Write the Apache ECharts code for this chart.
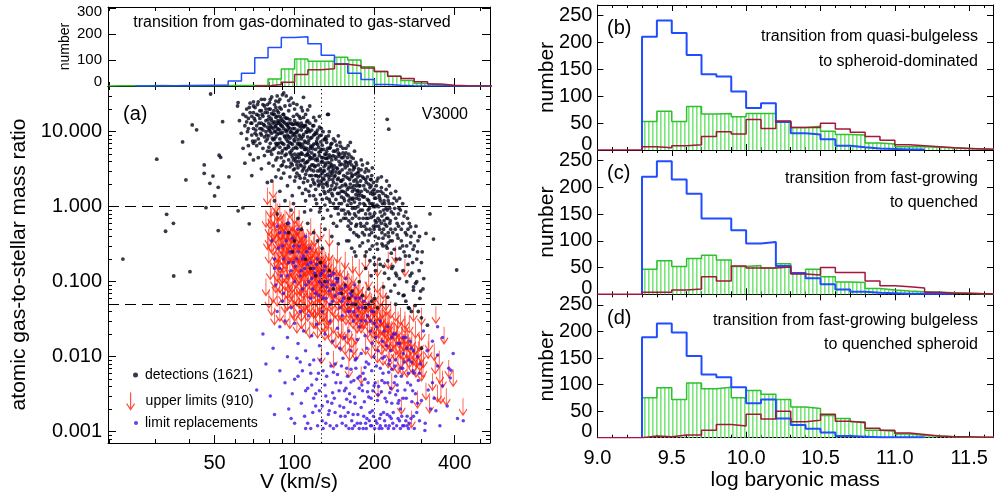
<!DOCTYPE html>
<html><head><meta charset="utf-8">
<script src="https://cdn.jsdelivr.net/npm/echarts@6/dist/echarts.min.js"></script>
<style>html,body{margin:0;padding:0;background:#fff}#c{width:994px;height:495px}</style>
</head><body><div id="c"></div>
<script>
// ================= DATA =================
// Top-left histogram: bins in log V (lower edges + last upper edge)
const vHistEdgesLog = [1.30,1.35,1.40,1.45,1.50,1.55,1.60,1.65,1.70,1.75,1.80,1.85,1.90,1.95,2.00,2.05,2.10,2.15,2.20,2.25,2.30,2.35,2.40,2.45,2.50,2.55,2.60,2.65,2.70,2.75];
const vHistBlue  = [null,null,0,1,1,2,2,3,4,19,49,108,148,186,189,162,118,85,49,25,6,3,1,0,0,0,0,0,0];
const vHistGreen = [1,1,1,2,1,1,2,1,2,2,2,3,27,65,104,95,95,110,100,74,56,37,21,10,4,1,0,0,0];
const vHistRed   = [null,null,null,null,null,null,null,null,null,null,null,0,6,14,44,62,66,83,78,69,56,37,29,16,8,3,1,0,0];

// Right histograms: bins in log baryonic mass
const massEdges = [9.0,9.1,9.2,9.3,9.4,9.5,9.6,9.7,9.8,9.9,10.0,10.1,10.2,10.3,10.4,10.5,10.6,10.7,10.8,10.9,11.0,11.1,11.2,11.3,11.4,11.5,11.6,11.7];
const massBlueB  = [null,null,null,211,241,218,177,141,137,109,78,87,52,31,29,20,8,5,3,2,1,1,null,null,null,null,null];
const massGreenB = [null,null,null,53,72,53,81,67,68,62,68,68,53,42,44,35,29,28,13,11,6,6,5,4,3,2,1];
const massRedB   = [0,0,0,6,4,8,10,25,34,30,57,40,54,42,42,50,39,33,25,18,10,8,6,4,3,2,1];
const massBlueC  = [null,null,null,220,249,215,188,142,142,120,95,98,53,40,30,19,9,5,3,2,1,1,1,1,null,null,null];
const massGreenC = [null,null,null,47,63,52,67,73,64,52,54,49,57,39,47,33,23,22,11,8,6,5,4,3,2,1,1];
const massRedC   = [0,0,0,4,4,8,10,33,25,53,49,49,51,38,36,50,41,41,25,16,14,12,4,2,2,1,1];
const massBlueD  = [null,null,null,189,215,198,154,119,114,95,65,72,36,24,17,10,3,2,1,1,1,1,null,null,null,null,null];
const massGreenD = [null,null,null,75,94,72,103,92,95,75,89,82,72,58,55,42,36,30,14,12,7,4,3,2,1,1,1];
const massRedD   = [0,0,0,3,2,5,5,14,25,22,44,35,50,30,33,44,31,28,18,14,9,6,3,2,2,1,1];

// Scatter panel (a): [V km/s, gas-to-stellar ratio]
const detections = [
[48.3,31.8],[61.3,24.4],[91,33],[108,28.7],[134,17],[223,14.6],[226,10.8],[41.2,12.3],[42.8,10.6],[37.9,7.3],[30.3,4.3],[45.7,3.6],[39,2.27],[45.7,2.78],[48,2.05],[51.6,1.81],[50,1.39],[46.4,0.97],[33,0.79],[35,0.6],[32.7,0.47],[51.6,0.48],[67.5,0.59],[61.3,0.88],[56.6,2.5],[52.7,4.55],[53.6,13.6],[22.6,0.2],[323,0.8],[333,0.37],[312,0.44],[273,0.54],[407,0.143],[35.1,0.119],[40.4,0.136],[316,0.0263],[300,0.013],[280,0.077],[258,0.066],[270,0.044],[63.9,0.97],[49.3,2.56],[52,4.85],[80.5,24.4],[85,25.6],[96,22.5],[112,19.5],[133,17],[146,8.8],[131.5,7.9],
[61,22],[62,14],[63,9.5],[64,17],[64,6],[65,12],[65,3.8],[66,20],[66,8],[67,11],[67,15],[68,5],[68,24],[69,9],[69,13],[69,2.6],[70,18],[70,7],[70,11],[70,4.2],
[71,14],[71,9.5],[71,21],[72,6.5],[72,12],[72,17],[73,8],[73,25],[73,4.5],[74,11],[74,15],[74,7],[75,19],[75,9],[75,13],[75,3.2],[76,6],[76,10.5],[76,16],[77,8.5],[77,22],[77,12],[77,4.8],[78,14],[78,7.5],[78,10],[79,18],[79,5.5],[79,11.5],[79,2.1],[80,8.8],[80,13],[80,16],[80,6.2],[80,3.8],
[81,12],[81,20],[81,7],[81,27],[82,9.5],[82,5],[82,14],[83,11],[83,17],[83,3.5],[83,7.8],[84,23],[84,10],[84,6],[84,13.5],[85,8.5],[85,4.2],[85,15.5],[85,2.5],[86,11],[86,19],[86,6.8],[86,9.2],[87,13],[87,5.2],[87,3.1],[87,25],[88,8],[88,16],[88,10.5],[88,1.6],[88,6.2],[89,12],[89,4.5],[89,20],[89,7.2],[90,9.8],[90,14],[90,5.6],[90,3.6],[90,31],[84,1.2],[86,0.8],[82,2.2],[89,2.4],
[91,11],[91,6.8],[91,17],[91,2.8],[92,8.5],[92,13],[92,4.8],[92,22],[93,10],[93,5.9],[93,15],[93,3.4],[94,7.5],[94,12],[94,1.9],[94,9],[95,19],[95,4.2],[95,6.2],[95,11.5],[96,8.2],[96,14.5],[96,2.5],[96,5.3],[97,10],[97,3.8],[97,7],[97,28],[98,12.5],[98,4.6],[98,1.4],[98,8.8],[99,6],[99,16],[99,3.1],[99,9.5],[100,5],[100,11],[100,7.5],[100,2.2],[100,20],[94,0.6],[97,0.9],[99,1.1],[92,1.2],[95,0.45],[100,0.35],[98,0.25],[93,30],[99,24],
[101,8.5],[101,4],[101,13],[102,6],[102,2.8],[102,10],[102,17],[103,5],[103,7.8],[103,3.3],[104,12],[104,4.5],[104,1.8],[104,9],[105,6.5],[105,15],[105,2.4],[105,3.6],[106,8],[106,5.2],[106,10.5],[107,3],[107,6.8],[107,1.5],[107,19],[108,4.2],[108,9.2],[108,2.1],[109,5.8],[109,12],[109,3.4],[110,7.2],[110,1.2],[110,4.8],[110,2.7],[111,9.8],[111,6],[111,3.9],[112,2.2],[112,14],[112,5],[113,7.6],[113,1.6],[113,3.2],[114,4.3],[114,10],[114,2.6],[115,6.4],[115,0.9],[115,1.9],[103,0.7],[106,0.5],[109,0.85],[112,0.6],[114,22],
[116,3.6],[116,8.4],[116,5.2],[117,2.3],[117,12],[117,4.4],[118,1.4],[118,6.8],[118,3],[119,9.2],[119,2],[119,4.9],[120,5.8],[120,1.7],[120,3.5],[120,14],[121,2.6],[121,7.5],[121,1.1],[122,4.1],[122,10.5],[122,3],[123,6.2],[123,1.9],[123,2.5],[124,4.8],[124,8.8],[124,0.85],[125,3.2],[125,1.45],[125,5.5],[126,2.2],[126,11],[126,3.9],[127,6.6],[127,1.25],[127,2.8],[128,4.5],[128,0.7],[128,1.8],[129,3.4],[129,7.8],[129,2.3],[130,5],[130,1.05],[130,0.5],[118,0.45],[122,0.35],[127,0.28],[124,16],
[131,3.6],[131,2],[131,8.5],[132,1.3],[132,4.4],[133,2.7],[133,6],[133,0.9],[134,3.2],[134,1.6],[135,4.9],[135,2.3],[135,10],[136,1.15],[136,3.8],[137,2.6],[137,0.75],[137,6.8],[138,1.9],[138,4.2],[139,3],[139,1.4],[140,5.5],[140,0.6],[140,2.1],[141,3.5],[141,1.7],[142,7.5],[142,0.95],[142,2.6],[143,4.3],[143,1.25],[144,2],[144,0.55],[145,3.2],[145,5.8],[145,1.5],[146,2.4],[146,0.8],[147,4],[147,1.1],[148,2.9],[148,1.8],[149,6.4],[149,0.65],[150,2.2],[150,3.7],[150,1.35],[138,0.4],[146,0.32],
[152,1.6],[152,4.5],[153,2.6],[153,0.9],[154,1.2],[155,3.3],[155,2],[156,0.7],[156,5.2],[157,1.45],[158,2.8],[158,1.05],[159,0.55],[160,3.8],[160,1.8],[161,2.3],[161,0.8],[162,1.3],[163,4.6],[163,0.6],[164,2.5],[165,1.6],[165,0.95],[166,3.1],[167,0.45],[167,1.9],[168,1.15],[169,2.7],[170,0.75],[170,1.45],[171,3.6],[171,0.58],[172,2.1],[173,1],[173,1.65],[174,0.4],[174,2.9],[175,1.25],[175,0.7],[157,0.35],[164,0.28],[170,0.22],[159,6.5],[168,5.5],[162,7.2],
[176,1.9],[177,0.9],[178,0.55],[179,1.4],[180,2.5],[181,0.7],[182,1.1],[183,0.42],[184,1.7],[185,0.8],[186,3.2],[187,0.6],[188,1.25],[189,0.35],[190,2],[191,0.95],[192,0.5],[193,1.5],[194,0.72],[195,2.6],[196,0.3],[197,1.05],[198,0.55],[199,1.7],[200,0.82],[201,0.4],[202,1.3],[203,0.62],[204,2.2],[205,0.27],[180,0.33],[186,0.25],[192,0.19],[199,0.21],[178,4.2],[188,3.8],[196,3.3],[185,0.15],[202,0.14],[194,0.12],
[207,1.0],[209,0.5],[211,1.6],[213,0.75],[215,0.38],[217,1.2],[219,0.58],[221,0.3],[223,0.9],[225,0.45],[227,1.9],[229,0.65],[231,0.24],[233,0.35],[235,0.8],[237,1.3],[239,0.5],[241,0.2],[243,0.6],[245,0.38],[247,0.95],[249,0.28],[210,0.17],[218,0.13],[226,0.11],[234,0.16],[242,0.12],[212,2.5],[222,2.2],[238,0.09],[246,0.07],[230,0.075],[216,0.085],[224,0.062],[240,0.05],
[252,0.5],[255,0.3],[258,0.75],[261,0.22],[264,0.42],[267,0.17],[270,0.6],[273,0.33],[276,0.13],[279,0.27],[282,0.45],[285,0.095],[288,0.2],[291,0.35],[294,0.14],[298,0.075],[302,0.25],[306,0.11],[256,0.065],[262,0.055],[268,0.045],[275,0.04],[284,0.048],[292,0.04],[300,0.033],[255,1.1],[262,0.85],[248,1.3],[266,0.7],[240,1.6],
[110,0.2],[115,0.15],[120,0.12],[125,0.18],[130,0.1],[135,0.14],[140,0.08],[145,0.11],[150,0.07],[155,0.09],[160,0.06],[165,0.075],[170,0.05],[175,0.1],[180,0.065],[185,0.045],[190,0.08],[195,0.055],[200,0.06],[205,0.045],
[65.5,16],[66.5,10],[67.5,21],[68.5,13],[69.5,7.5],[70.5,15],[71.5,10.5],[72.5,23],[73.5,13],[74.5,9.5],[75.5,17],[76.5,12.5],[77.5,18],[78.5,9],[79.5,14.5],[66,13.5],[68,18],[70,22],[72,9],[74,19],[76,23],[78,20],[80,20],[77,27],[73,16.5],[75,11],[79,8],[71,7.5],[67,6.5],[69,16],
[80.5,11],[81.5,15],[82.5,8.2],[83.5,19],[84.5,11.8],[85.5,6.5],[86.5,14],[87.5,9.5],[88.5,12.5],[89.5,5.2],[90.5,17],[91.5,8.8],[92.5,10.5],[93.5,12.5],[94.5,6.5],[81,10],[82,17.5],[83,13],[84,8],[85,12],[86,16],[87,7],[88,21],[89,9.5],[90,7],[91,13.5],[92,6],[93,8],[94,15],[95,8.6],[82,11.5],[84,17],[86,13],[88,13.8],[90,11.8],[92,15.5],[94,10.5],[85,10],[87,18],[89,15],[91,4],[93,5],[95,13],[83,5.8],[85,7],[87,10.8],[89,3.5],[81,5.5],[80,10.5],[86,4.5],
[95.5,7.2],[96.5,9.8],[97.5,5.6],[98.5,11],[99.5,7.8],[100.5,4.4],[101.5,9.8],[102.5,6.9],[103.5,4],[104.5,7],[105.5,11.5],[106.5,4.1],[107.5,8.6],[108.5,6.2],[109.5,3.8],[110.5,10],[111.5,5],[112.5,7],[113.5,4.7],[114.5,6],[96,11],[97,13],[98,6.8],[99,4.2],[100,9.2],[101,6.2],[102,3.6],[103,10.5],[104,6.8],[105,8.5],[106,3.5],[107,5],[108,11.5],[109,7.5],[110,5.8],[111,3],[112,8.5],[113,5.5],[114,3.4],[115,8.2],[97,5],[99,12.5],[101,2.5],[103,13],[105,5],[107,12],[109,2.4],[111,13.5],[113,10.5],[115,4.5],[96,3.4],[98,3.6],[100,3.2],[102,4.6],[104,2.6],[106,6.2],[108,3.2],[110,1.7],[112,4],[114,1.4],
[115.5,3.1],[116.5,6.4],[117.5,3.6],[118.5,4.8],[119.5,2.6],[120.5,7],[121.5,4.4],[122.5,2.2],[123.5,5.3],[124.5,3],[125.5,7.3],[126.5,4.5],[127.5,2],[128.5,5.8],[129.5,3],[130.5,2.6],[131.5,5],[132.5,2.1],[133.5,3.9],[134.5,2.5],[135.5,6],[136.5,1.7],[137.5,3.4],[138.5,2.8],[139.5,4.8],[116,2.6],[118,9],[120,4.2],[122,6.8],[124,2],[126,5.8],[128,3],[130,3.8],[132,5.5],[134,4.5],[136,2.9],[138,1.5],[140,3.2],[117,5.9],[119,3.4],[121,9.5],[123,3.6],[125,2.6],[127,4],[129,1.6],[131,4.4],[133,1.9],[135,3.4],[137,4.6],[139,2.3],[120,1.25],[125,0.95],[130,1.5],[135,1.25],[140,1.1],[118,2.1],[128,2.4],[138,3.6],
[141,2.5],[142,4.6],[143,1.8],[144,3.3],[145,2.3],[146,4.7],[147,1.5],[148,3.6],[149,2.2],[150,1.6],[151,3.1],[152,2.3],[153,1.3],[154,3.6],[155,1.55],[156,2.5],[157,3.9],[158,1.7],[159,2.4],[160,1.2],[161,3.1],[162,2],[163,1.1],[164,1.8],[165,2.6],[166,1.3],[167,3.4],[168,1.7],[169,0.95],[170,2.3],[171,1.3],[172,1.6],[173,2.5],[174,0.85],[175,1.9],[143,2.9],[147,2.8],[151,1.9],[155,4],[159,1.4],[163,2.8],[167,2.2],[171,1.9],[175,1.5],[145,0.95],[150,0.9],[155,0.8],[160,0.65],[165,0.7],[170,0.55],[152,6],[158,4.5],[148,5],
[176,1.1],[178,1.6],[180,0.9],[182,1.9],[184,1.05],[186,0.7],[188,1.6],[190,1.2],[192,0.8],[194,1.9],[196,1.1],[198,0.75],[200,1.3],[202,0.55],[204,1.05],[206,0.7],[208,1.4],[210,0.85],[212,0.6],[214,1.1],[216,0.5],[218,0.8],[220,1.4],[222,0.55],[224,0.7],[226,0.4],[228,0.95],[230,0.5],[177,2.2],[181,1.35],[185,2.3],[189,0.9],[193,2.3],[197,1.45],[201,1.0],[205,1.6],[209,0.65],[213,0.45],[217,0.65],[221,0.95],[225,1.2],[229,0.35],[183,0.55],[191,0.42],[199,0.5],[207,0.38],[215,0.3],[223,0.28],
[150,1.1],[153,0.7],[156,1.9],[159,0.85],[162,0.5],[165,1.25],[168,0.8],[171,0.42],[174,1.4],[177,0.6],[180,0.45],[183,1.35],[186,0.5],[189,0.7],[192,1.1],[195,0.45],[198,1.0],[201,0.65],[204,0.32],[207,0.55],[210,1.2],[213,0.32],[216,0.9],[219,0.42],[222,0.7],[225,0.33],[228,0.6],[231,0.85],[234,0.45],[237,0.27],[240,0.7],[243,0.42],[246,0.55],[249,0.2],[252,0.35],[255,0.6],[258,0.25],[261,0.45],[264,0.3],[267,0.5],[270,0.22],[274,0.4],[278,0.18],[282,0.3],[286,0.55],[290,0.25],[295,0.4],[300,0.18],[160,0.35],[168,0.25],[176,0.3],[184,0.22],[192,0.27],[200,0.17],[208,0.2],[216,0.16],[224,0.19],[232,0.15],[240,0.13],[248,0.11],[256,0.14],[264,0.1],[272,0.12],[280,0.085],[288,0.1],[296,0.06],[304,0.08],
[100,14],[102,12.5],[104,16],[106,13],[108,15.5],[110,12],[112,11],[114,13],[116,10.5],[118,12],[120,9.8],[122,8.2],[124,11.5],[126,9],[128,10],[130,8],[132,7.2],[134,8.8],[136,6.2],[138,7],[140,8],[142,5.5],[144,6.6],[146,5.2],[148,7.2],[150,4.5],[152,5.2],[154,4.8],[156,6],[158,3.5],[160,5],[162,4],[164,3.6],[166,4.4],[168,3.3],[170,3.9],[172,2.8],[174,3.2],[176,2.6],[178,3.1],[180,3.6],[182,2.4],[184,2.9],[186,2.1],[188,2.5],[190,3],[192,1.8],[194,2.3],[196,1.6],[198,2.1],[200,1.5],[203,1.9],[206,2.4],[209,1.3],[212,1.8],[215,1.5],[218,1.1],[221,1.7],[224,1.35],[227,1.1],[230,1.5],[234,1.1],[238,0.95],[242,1.2],[246,0.8],[250,0.9],[70,25],[75,27],[82,29],[86,30],[88,27],[95,26],[102,23],[106,21],[110,17],[118,15.5],[85,21],[79,23]
];
const upperLimits = [
[78,0.9],[79,0.45],[79,1.8],[80,0.3],[80,0.7],[81,1.2],[81,0.18],[82,0.55],[82,0.95],[83,0.38],[83,2.2],[84,0.25],[84,0.65],[85,0.12],[85,1.4],[86,0.45],[86,0.8],[87,0.3],[87,0.2],[88,0.6],[88,1.1],[89,0.15],[89,0.4],[90,0.75],[90,0.28],[78,0.11],[80,0.075],[83,0.09],
[91,0.5],[91,0.22],[92,0.35],[92,0.9],[93,0.16],[93,0.6],[94,0.28],[94,0.45],[95,0.12],[95,0.75],[96,0.38],[96,0.2],[97,0.55],[97,0.1],[98,0.3],[98,0.8],[99,0.18],[99,0.42],[100,0.25],[100,0.62],[101,0.14],[101,0.35],[102,0.5],[102,0.08],[103,0.22],[103,0.7],[104,0.3],[104,0.16],[105,0.45],[105,0.11],[106,0.26],[106,0.6],[107,0.19],[107,0.38],[108,0.13],[108,0.5],[109,0.28],[109,0.07],[110,0.2],[110,0.4],[96,1.2],[100,1.0],[104,0.9],[92,0.065],[99,0.055],[106,0.05],
[111,0.3],[112,0.15],[113,0.45],[114,0.1],[115,0.24],[116,0.35],[117,0.12],[118,0.2],[119,0.5],[120,0.08],[121,0.28],[122,0.16],[123,0.38],[124,0.11],[125,0.22],[126,0.06],[127,0.3],[128,0.14],[129,0.19],[130,0.09],[131,0.25],[132,0.12],[133,0.045],[134,0.17],[135,0.32],[136,0.08],[137,0.13],[138,0.22],[139,0.06],[140,0.15],[115,0.7],[125,0.6],[135,0.5],[120,0.04],[130,0.035],
[142,0.1],[144,0.2],[146,0.07],[148,0.14],[150,0.05],[152,0.11],[154,0.18],[156,0.065],[158,0.09],[160,0.13],[162,0.045],[164,0.08],[166,0.16],[168,0.06],[170,0.1],[172,0.035],[174,0.07],[176,0.12],[178,0.05],[180,0.085],[145,0.3],[155,0.25],[165,0.22],[175,0.2],[150,0.03],[160,0.028],[170,0.025],
[182,0.04],[184,0.065],[186,0.1],[188,0.03],[190,0.055],[192,0.075],[194,0.025],[196,0.045],[198,0.06],[200,0.035],[202,0.02],[204,0.05],[206,0.07],[208,0.03],[210,0.042],[212,0.018],[214,0.055],[216,0.032],[218,0.025],[220,0.04],[222,0.06],[224,0.022],[226,0.035],[228,0.015],[230,0.028],[190,0.14],[205,0.12],[215,0.1],
[233,0.02],[236,0.032],[239,0.015],[242,0.025],[245,0.04],[248,0.018],[251,0.012],[254,0.028],[257,0.02],[260,0.035],[263,0.014],[266,0.022],[270,0.012],[274,0.018],[278,0.01],[282,0.015],[286,0.009],[290,0.013],[295,0.02],[300,0.008],
[305,0.012],[312,0.0045],[318,0.016],[322,0.003],[330,0.006],[338,0.01],[345,0.0042],[352,0.0075],[360,0.0065],[365,0.025],[372,0.0038],[380,0.009],[395,0.0068],[430,0.0028],[340,0.047],[300,0.045],[280,0.05],
[260,0.2],[240,0.3],[225,0.25],[205,0.2],[185,0.25],
[126,0.0136],[178,0.0074],[206,0.0049],[252,0.0029],[275,0.0019],[355,0.004],[140,0.012],[160,0.009],[232,0.006],[290,0.0035],
[80,0.5],[81,0.85],[82,0.42],[83,0.6],[84,0.95],[85,0.3],[85,0.55],[86,0.25],[86,1.1],[87,0.7],[87,0.48],[88,0.35],[88,0.22],[89,0.85],[89,0.6],[90,0.45],[90,0.16],[91,0.35],[91,0.8],[92,0.6],[92,0.25],[93,0.4],[93,0.28],[94,0.7],[94,0.18],[95,0.5],[95,0.3],[96,0.6],[96,0.14],[97,0.3],[97,0.4],[98,0.2],[98,0.55],[99,0.3],[99,0.65],[100,0.4],[100,0.17],[101,0.5],[101,0.24],[102,0.3],[102,0.7],[103,0.15],[103,0.45],[104,0.55],[104,0.22],[105,0.3],[105,0.18],[106,0.4],[106,0.12],[107,0.55],[107,0.27],[108,0.32],[108,0.2],[109,0.45],[109,0.16],[110,0.3],[110,0.12],
[111,0.45],[111,0.2],[112,0.25],[112,0.1],[113,0.3],[113,0.17],[114,0.4],[114,0.21],[115,0.15],[115,0.33],[116,0.22],[116,0.13],[117,0.3],[117,0.18],[118,0.4],[118,0.1],[119,0.25],[119,0.14],[120,0.33],[120,0.18],[121,0.12],[121,0.2],[122,0.26],[122,0.09],[123,0.15],[123,0.22],[124,0.3],[124,0.16],[125,0.13],[125,0.09],[126,0.2],[126,0.28],[127,0.16],[127,0.1],[128,0.22],[128,0.075],[129,0.12],[129,0.28],[130,0.2],[130,0.14],
[132,0.18],[132,0.07],[134,0.11],[134,0.24],[136,0.15],[136,0.2],[138,0.1],[138,0.07],[140,0.2],[140,0.1],[142,0.15],[142,0.055],[144,0.12],[144,0.085],[146,0.13],[146,0.05],[148,0.09],[148,0.2],[150,0.12],[150,0.075],[152,0.08],[152,0.05],[154,0.1],[154,0.065],[156,0.12],[156,0.045],[158,0.07],[158,0.14],[160,0.09],[160,0.055],[162,0.1],[162,0.07],[164,0.055],[164,0.12],[166,0.085],[166,0.04],[168,0.1],[168,0.05],[170,0.07],[170,0.045],[172,0.09],[172,0.055],[174,0.05],[174,0.1],[176,0.065],[176,0.04],[178,0.08],[178,0.035],[180,0.06],[180,0.04],
[183,0.05],[185,0.075],[187,0.045],[189,0.065],[191,0.035],[193,0.05],[195,0.07],[197,0.03],[199,0.045],[201,0.06],[203,0.03],[205,0.04],[207,0.025],[209,0.05],[211,0.033],[213,0.045],[215,0.022],[217,0.04],[219,0.03],[221,0.02],[223,0.035],[225,0.027],[227,0.04],[229,0.02],[232,0.03],[235,0.022],[238,0.028],[241,0.018],[244,0.03],[247,0.022],[250,0.016],[253,0.025],[256,0.015],[259,0.02],[262,0.025],[265,0.016],[268,0.02],[272,0.015],[276,0.022],[280,0.013],[284,0.018],[288,0.012],[292,0.016],[296,0.011],[300,0.014],[304,0.009],
[82,0.06],[84,0.045],[86,0.08],[88,0.05],[90,0.09],[92,0.045],[94,0.07],[96,0.04],[98,0.075],[100,0.05],[102,0.035],[104,0.06],[106,0.04],[108,0.065],[110,0.035],[112,0.05],[114,0.03],[116,0.06],[118,0.04],[120,0.055],[122,0.03],[124,0.045],[126,0.035],[128,0.05],[130,0.028],[132,0.04],[134,0.03],[136,0.045],[138,0.025],[140,0.035],[143,0.022],[146,0.03],[149,0.02],[152,0.028],[155,0.018],[158,0.025],[161,0.015],[164,0.022],[167,0.018],[170,0.015],
[84,0.14],[86,0.17],[88,0.12],[90,0.11],[92,0.13],[94,0.1],[96,0.09],[98,0.12],[100,0.085],[102,0.11],[104,0.075],[106,0.09],[108,0.1],[110,0.06],[112,0.075],[114,0.065],[116,0.08],[118,0.055],[120,0.11],[122,0.06],[124,0.07],[126,0.1],[128,0.05],[130,0.06],
[185,0.018],[195,0.016],[205,0.014],[215,0.013],[225,0.012],[235,0.011],[245,0.01],[255,0.0095],[265,0.009],[200,0.09],[210,0.08],[220,0.07],[230,0.055],[240,0.05],[250,0.045],[260,0.04],[270,0.035],[285,0.03],[300,0.028],[320,0.02],[335,0.015],[350,0.012]
];
const replacements = [
[82,0.35],[84,0.2],[86,0.55],[88,0.15],[90,0.3],[92,0.45],[94,0.12],[96,0.25],[98,0.38],[100,0.1],[102,0.2],[104,0.3],[106,0.14],[108,0.22],[110,0.09],[112,0.17],[114,0.28],[116,0.11],[118,0.15],[120,0.07],[122,0.2],[124,0.1],[126,0.13],[128,0.06],[130,0.16],[132,0.085],[134,0.12],[136,0.05],[138,0.09],[140,0.13],[142,0.065],[145,0.1],[148,0.045],[150,0.08],[153,0.06],[156,0.11],[159,0.04],[162,0.07],[165,0.05],[168,0.09],[172,0.035],[176,0.06],[180,0.045],[185,0.03],[190,0.05],[195,0.04],[200,0.028],[88,0.45],[95,0.6],[103,0.5],[110,0.4],[99,0.18],[107,0.08],[115,0.06],[85,0.09],[91,0.07],
[86,0.04],[88,0.025],[90,0.055],[92,0.03],[94,0.018],[97,0.045],[100,0.028],[103,0.015],[105,0.04],[108,0.022],[110,0.012],[113,0.035],[116,0.019],[118,0.009],[121,0.027],[124,0.014],[127,0.04],[130,0.02],[133,0.011],[136,0.03],[139,0.016],[142,0.008],[145,0.024],[148,0.013],[151,0.035],[154,0.018],[157,0.007],[160,0.022],[163,0.012],[166,0.03],[169,0.009],[172,0.017],[175,0.025],[178,0.011],[181,0.006],[184,0.019],[187,0.013],[190,0.008],[193,0.022],[196,0.015],[199,0.01],[202,0.018],[206,0.012],[210,0.007],[214,0.016],[218,0.01],[222,0.014],[226,0.008],[230,0.012],[235,0.02],[240,0.009],[245,0.015],[250,0.007],[256,0.011],[262,0.018],[268,0.009],[275,0.013],[282,0.006],[290,0.01],[298,0.008],[305,0.022],[315,0.012],[330,0.016],[345,0.025],[360,0.018],[380,0.007],[395,0.011],
[92,0.0045],[95,0.002],[98,0.0032],[100,0.0013],[103,0.0055],[106,0.0024],[109,0.0016],[112,0.0038],[115,0.0011],[118,0.0028],[121,0.005],[124,0.0019],[127,0.0014],[130,0.0042],[133,0.0025],[136,0.0012],[139,0.0033],[142,0.0018],[145,0.0058],[148,0.0022],[151,0.0013],[154,0.0035],[157,0.0027],[160,0.0011],[163,0.0046],[166,0.0017],[169,0.0024],[172,0.0013],[175,0.0038],[178,0.0021],[181,0.0011],[184,0.005],[187,0.0015],[190,0.0029],[193,0.0012],[196,0.0019],[199,0.0041],[202,0.0014],[205,0.0026],[208,0.0011],[212,0.0034],[216,0.0018],[220,0.0012],[224,0.0045],[228,0.0016],[232,0.0024],[236,0.0011],[240,0.0031],[245,0.0015],[250,0.002],[255,0.0012],[260,0.0036],[265,0.0016],[270,0.0013],[276,0.0025],[282,0.0011],[288,0.0018],[295,0.0014],[310,0.0013],[325,0.002],[340,0.0019],[128,0.0065],[150,0.0075],[170,0.007],[195,0.0065],[215,0.006],[240,0.0055],
[72,0.0036],[81,0.003],[84,0.0017],[78,0.008],[83,0.013],[88,0.0065],[76,0.02],[94,0.01],[97,0.0015],[102,0.0095],
[330,0.0045],[345,0.0075],[360,0.0041],[375,0.0022],[385,0.0052],[410,0.0015],[431,0.0014],[309,0.00104],[265,0.0012],[228,0.0089],[345,0.0105],[387,0.0066],
[84,0.15],[87,0.28],[89,0.12],[91,0.2],[93,0.35],[95,0.18],[97,0.14],[99,0.3],[101,0.16],[103,0.25],[105,0.12],[107,0.2],[109,0.15],[111,0.25],[113,0.1],[115,0.18],[117,0.08],[119,0.13],[121,0.17],[123,0.065],[125,0.12],[127,0.09],[129,0.14],[131,0.06],[133,0.1],[135,0.075],[137,0.12],[139,0.055],[141,0.09],[143,0.11],[147,0.07],[151,0.055],[155,0.085],[158,0.05],[161,0.04],[164,0.065],[167,0.04],[170,0.06],[174,0.045],[178,0.03],[182,0.055],[188,0.035],[193,0.03],[198,0.04],[203,0.025],[210,0.03],[217,0.022],[224,0.025],[232,0.018],[240,0.02],[248,0.015],[256,0.018],[264,0.013],[272,0.016],[280,0.012],
[105,0.0085],[110,0.0035],[115,0.006],[120,0.0022],[125,0.009],[132,0.0055],[137,0.0075],[143,0.0045],[147,0.0035],[152,0.0095],[158,0.0055],[162,0.0025],[167,0.0048],[171,0.0095],[176,0.0055],[180,0.0035],[186,0.0085],[189,0.0045],[192,0.0018],[197,0.0035],[203,0.0075],[207,0.004],[211,0.0017],[214,0.0095],[218,0.0045],[222,0.0025],[226,0.0062],[230,0.0038],[234,0.0013],[238,0.0075],[243,0.0042],[247,0.0026],[252,0.0055],[258,0.0085],[263,0.0028],[268,0.006],[273,0.0042],[279,0.0065],[285,0.0032],[292,0.0048],[300,0.0026],[318,0.0036],[335,0.0028],[352,0.0012],[120,0.0032],[135,0.0019],[155,0.0016],[165,0.0011],[185,0.0013],[200,0.0011],[225,0.0011],[250,0.0011],[140,0.0011],[128,0.0011],[110,0.0011],[175,0.0011],[210,0.0012],[245,0.0024],[280,0.0016],
[112,0.0013],[117,0.0018],[122,0.0012],[127,0.0022],[131,0.0013],[134,0.0017],[138,0.0024],[144,0.0012],[149,0.0016],[153,0.0021],[156,0.0012],[159,0.0018],[164,0.0014],[168,0.0012],[173,0.0017],[177,0.0013],[182,0.0016],[186,0.0011],[191,0.0014],[195,0.0012],[198,0.0016],[204,0.0013],[209,0.0015],[213,0.0011],[218,0.0014],[223,0.0017],[227,0.0012],[231,0.0015],[235,0.0018],[242,0.0012],[248,0.0014],[253,0.0016],[258,0.0012],[262,0.0014],[268,0.0011],[274,0.0015],
[116,0.0042],[124,0.0035],[131,0.003],[141,0.0028],[149,0.0045],[156,0.0038],[161,0.0032],[168,0.0029],[173,0.0052],[179,0.0042],[183,0.0025],[188,0.0034],[194,0.0028],[201,0.0045],[206,0.0031],[213,0.0048],[219,0.0028],[228,0.0033],[237,0.0045],[244,0.0035],[256,0.0028],[266,0.0045],[278,0.0035],[290,0.0024],[100,0.005],[107,0.0065],[114,0.0078],[123,0.006],[140,0.0062],[163,0.0068],[184,0.0072],[232,0.0068],[255,0.007],[275,0.0085],[295,0.006]
];

// Axis ticks / labels / reference lines
const vMajorTicks = [50,100,200,400];
const vMinorTicks = [20,30,40,60,70,80,90,300,500];
const rMajorTicks = [0.001,0.01,0.1,1,10];
const rMinorTicks = [0.0008,0.0009,0.002,0.003,0.004,0.005,0.006,0.007,0.008,0.009,0.02,0.03,0.04,0.05,0.06,0.07,0.08,0.09,0.2,0.3,0.4,0.5,0.6,0.7,0.8,0.9,2,3,4,5,6,7,8,9,20,30];
const topHistTicks = [0,100,200,300];
const massMajorTicks = [9.0,9.5,10.0,10.5,11.0,11.5];
const massMinorTicks = [9.1,9.2,9.3,9.4,9.6,9.7,9.8,9.9,10.1,10.2,10.3,10.4,10.6,10.7,10.8,10.9,11.1,11.2,11.3,11.4,11.6];
const numberTicks = [0,50,100,150,200,250];
const ratioDashLines = [1.0, 0.05];
const vDotLines = [126, 200];

// ================= CHART =================
const FONT = 'Liberation Sans';
const BLUE = '#1f4dff', RED = '#a5163c', GREEN = '#2fbf2f';
const L10 = Math.log10;
const lvMin = 1.298, lvMax = 2.735, lrMin = -3.151, lrMax = 1.609;

const pc = document.createElement('canvas'); pc.width = 4; pc.height = 8;
const pctx = pc.getContext('2d'); pctx.fillStyle = '#78e678'; pctx.fillRect(0, 0, 1.6, 8);
const hatch = {image: pc, repeat: 'repeat'};

function stepData(edges, counts) {
  const pts = []; let started = false, last = 0;
  for (let i = 0; i < counts.length; i++) {
    const c = counts[i];
    if (c === null) { if (started) { pts.push([edges[i], last]); pts.push([edges[i], 0]); started = false; } continue; }
    if (!started) { pts.push([edges[i], 0]); started = true; }
    pts.push([edges[i], c]); last = c;
  }
  if (started) { pts.push([edges[counts.length], last]); pts.push([edges[counts.length], 0]); }
  return pts;
}

const xAxis = [], yAxis = [];
function ax(kind, g, min, max, pos, ticks, len, label, more) {
  const a = Object.assign({
    type: 'value', gridIndex: g, min: min, max: max, position: pos, offset: 0,
    axisLine: {show: false, onZero: false, lineStyle: {color: '#000', width: 1}},
    axisTick: {show: true, inside: true, length: len, customValues: ticks, lineStyle: {color: '#000', width: 1}},
    axisLabel: label ? Object.assign({show: true, color: '#000', fontFamily: FONT}, label) : {show: false},
    splitLine: {show: false}, splitArea: {show: false}, minorTick: {show: false}, axisPointer: {show: false}, silent: true,
    nameMoveOverlap: false
  }, more || {});
  const arr = kind === 'x' ? xAxis : yAxis; arr.push(a); return arr.length - 1;
}
const LINE = {axisLine: {show: true, onZero: false, lineStyle: {color: '#000', width: 1}}};
function nameStyle(fs) { return {color: '#000', fontSize: fs, fontFamily: FONT}; }

const grid = [
  {left: 108, top: 7, width: 382, height: 79},
  {left: 108, top: 86, width: 382, height: 357},
  {left: 597.4, top: 5, width: 395.6, height: 145},
  {left: 597.4, top: 150, width: 395.6, height: 144.3},
  {left: 597.4, top: 294.3, width: 395.6, height: 143.4}
].map(g => Object.assign({containLabel: false, outerBoundsMode: 'none', show: false}, g));

const lvMaj = vMajorTicks.map(L10), lvMin2 = vMinorTicks.map(L10);
const richShift = {s: {fontSize: 20, lineHeight: 20, fontFamily: FONT, color: '#000'}, p: {fontSize: 1, lineHeight: 12}};

// grid 0: top histogram
const g0x = ax('x', 0, lvMin, lvMax, 'bottom', lvMaj, 8, null, LINE);
ax('x', 0, lvMin, lvMax, 'bottom', lvMin2, 4, null);
ax('x', 0, lvMin, lvMax, 'top', lvMaj, 8, null, LINE);
ax('x', 0, lvMin, lvMax, 'top', lvMin2, 4, null);
const g0y = ax('y', 0, 0, 303, 'left', topHistTicks, 8, {
  fontSize: 15, margin: 6, customValues: topHistTicks,
  formatter: v => v === 0 ? '{s|0}\n{p| }' : (v === 300 ? '{p| }\n{s|300}' : '{s|' + v + '}'),
  rich: {s: {fontSize: 15, lineHeight: 15, fontFamily: FONT, color: '#000'}, p: {fontSize: 1, lineHeight: 8}}
}, Object.assign({name: 'number', nameLocation: 'middle', nameGap: 36, nameTextStyle: nameStyle(14)}, LINE));
ax('y', 0, 0, 303, 'right', topHistTicks, 8, null, LINE);

// grid 1: scatter
const g1x = ax('x', 1, lvMin, lvMax, 'bottom', lvMaj, 8, {
  fontSize: 20, margin: 10, customValues: lvMaj, formatter: v => String(Math.round(Math.pow(10, v)))
}, Object.assign({name: 'V (km/s)', nameLocation: 'middle', nameGap: 29, nameTextStyle: nameStyle(21)}, LINE));
ax('x', 1, lvMin, lvMax, 'bottom', lvMin2, 4, null);
ax('x', 1, lvMin, lvMax, 'top', lvMaj, 8, null, LINE);
ax('x', 1, lvMin, lvMax, 'top', lvMin2, 4, null);
const lrMaj = rMajorTicks.map(L10), lrMinT = rMinorTicks.map(L10);
const g1y = ax('y', 1, lrMin, lrMax, 'left', lrMaj, 8, {
  fontSize: 20, margin: 6, customValues: lrMaj, formatter: v => Math.pow(10, v).toFixed(3)
}, Object.assign({name: 'atomic gas-to-stellar mass ratio', nameLocation: 'middle', nameGap: 78, nameTextStyle: nameStyle(21)}, LINE));
ax('y', 1, lrMin, lrMax, 'left', lrMinT, 4, null);
ax('y', 1, lrMin, lrMax, 'right', lrMaj, 8, null, LINE);
ax('y', 1, lrMin, lrMax, 'right', lrMinT, 4, null);

// grids 2-4: mass histograms
const massX = [], massY = [];
[2, 3, 4].forEach(g => {
  const last = g === 4;
  massX.push(ax('x', g, 9.0, 11.66, 'bottom', massMajorTicks, 6, last ? {
    fontSize: 20, margin: 11, customValues: massMajorTicks, formatter: v => v.toFixed(1)
  } : null, Object.assign(last ? {name: 'log baryonic mass', nameLocation: 'middle', nameGap: 32, nameTextStyle: nameStyle(21)} : {}, LINE)));
  ax('x', g, 9.0, 11.66, 'bottom', massMinorTicks, 3, null);
  ax('x', g, 9.0, 11.66, 'top', massMajorTicks, 6, null, LINE);
  ax('x', g, 9.0, 11.66, 'top', massMinorTicks, 3, null);
  massY.push(ax('y', g, 0, 270, 'left', numberTicks, 6, {
    fontSize: 20, margin: 5, customValues: numberTicks,
    formatter: v => v === 0 ? '{s|0}\n{p| }' : '{s|' + v + '}', rich: richShift
  }, Object.assign({name: 'number', nameLocation: 'middle', nameGap: 40, nameTextStyle: nameStyle(21)}, LINE)));
  ax('y', g, 0, 270, 'right', numberTicks, 6, null, LINE);
});

function hist(xi, yi, edges, counts, color, width, area) {
  const s = {type: 'line', xAxisIndex: xi, yAxisIndex: yi, data: stepData(edges, counts), step: 'end',
    symbol: 'none', showSymbol: false, silent: true, animation: false, clip: true,
    lineStyle: {color: color, width: width}, emphasis: {disabled: true}};
  if (area) s.areaStyle = {color: hatch, opacity: 1, origin: 'start'};
  return s;
}

const series = [];
series.push(hist(g0x, g0y, vHistEdgesLog, vHistGreen, GREEN, 1.5, true));
series.push(hist(g0x, g0y, vHistEdgesLog, vHistBlue, BLUE, 1.5));
series.push(hist(g0x, g0y, vHistEdgesLog, vHistRed, RED, 1.5));
const massSets = [[massGreenB, massBlueB, massRedB], [massGreenC, massBlueC, massRedC], [massGreenD, massBlueD, massRedD]];
massSets.forEach((set, k) => {
  series.push(hist(massX[k], massY[k], massEdges, set[0], GREEN, 1.5, true));
  series.push(hist(massX[k], massY[k], massEdges, set[1], BLUE, 2));
  series.push(hist(massX[k], massY[k], massEdges, set[2], RED, 1.5));
});

const toLog = arr => arr.map(p => [L10(p[0]), L10(p[1])]);
const ARROW = 'path://M4,0L4,17M0,11L4,17L8,11';
series.push({
  type: 'line', xAxisIndex: g1x, yAxisIndex: g1y, data: [], silent: true, z: 1,
  markLine: {silent: true, symbol: ['none', 'none'], label: {show: false}, animation: false,
    data: ratioDashLines.map(r => ({yAxis: L10(r), lineStyle: {color: '#000', width: 1, type: [11, 6]}}))
      .concat(vDotLines.map(v => ({xAxis: L10(v), lineStyle: {color: '#000', width: 1, type: [1.2, 3]}})))}
});
series.push({name: 'upper limits (910)', type: 'scatter', xAxisIndex: g1x, yAxisIndex: g1y, data: toLog(upperLimits),
  symbol: ARROW, symbolSize: [8, 17], symbolOffset: [0, '50%'], silent: true, animation: false, z: 2,
  itemStyle: {color: 'rgba(0,0,0,0)', borderColor: '#ff2208', borderWidth: 1.2}, emphasis: {disabled: true}});
series.push({name: 'detections (1621)', type: 'scatter', xAxisIndex: g1x, yAxisIndex: g1y, data: toLog(detections),
  symbol: 'circle', symbolSize: 3.8, silent: true, animation: false, z: 3,
  itemStyle: {color: '#06061e', borderWidth: 0}, emphasis: {disabled: true}});
series.push({name: 'limit replacements', type: 'scatter', xAxisIndex: g1x, yAxisIndex: g1y, data: toLog(replacements),
  symbol: 'circle', symbolSize: 3.5, silent: true, animation: false, z: 4,
  itemStyle: {color: '#3d12e6', borderWidth: 0}, emphasis: {disabled: true}});

const legTxt = {fontSize: 14, fontFamily: FONT, color: '#000'};
const legend = [
  {data: [{name: 'detections (1621)', icon: 'circle', itemStyle: {color: '#06061e'}}], left: 133, top: 368, padding: 0, itemWidth: 5, itemHeight: 5, selectedMode: false, textStyle: Object.assign({padding: [0, 0, 0, 2]}, legTxt)},
  {data: [{name: 'upper limits (910)', icon: ARROW, itemStyle: {color: 'rgba(0,0,0,0)', borderColor: '#ff2208', borderWidth: 1.2}}], left: 126, top: 392, padding: 0, itemWidth: 8, itemHeight: 17, selectedMode: false, textStyle: Object.assign({padding: [0, 0, 0, 6]}, legTxt)},
  {data: [{name: 'limit replacements', icon: 'circle', itemStyle: {color: '#3d12e6'}}], left: 134, top: 416, padding: 0, itemWidth: 4, itemHeight: 4, selectedMode: false, textStyle: Object.assign({padding: [0, 0, 0, 2]}, legTxt)}
];

function txt(x, y, text, size, align) {
  return {type: 'text', x: x, y: y, silent: true, z: 10,
    style: {text: text, fontSize: size, fontFamily: FONT, fill: '#000', align: align || 'left', verticalAlign: 'middle'}};
}
const graphic = [
  txt(292, 23, 'transition from gas-dominated to gas-starved', 16, 'center'),
  txt(123, 114, '(a)', 20),
  txt(468, 115, 'V3000', 16, 'right'),
  txt(607, 28, '(b)', 20), txt(978, 37, 'transition from quasi-bulgeless', 16, 'right'), txt(978, 62, 'to spheroid-dominated', 16, 'right'),
  txt(607, 173, '(c)', 20), txt(978, 179, 'transition from fast-growing', 16, 'right'), txt(978, 203, 'to quenched', 16, 'right'),
  txt(607, 318, '(d)', 20), txt(978, 321, 'transition from fast-growing bulgeless', 16, 'right'), txt(978, 345, 'to quenched spheroid', 16, 'right')
];

const chart = echarts.init(document.getElementById('c'), null, {renderer: 'canvas'});
chart.setOption({
  backgroundColor: '#fff', animation: false, textStyle: {fontFamily: FONT},
  grid: grid, xAxis: xAxis, yAxis: yAxis, series: series, legend: legend, graphic: graphic, tooltip: {show: false}
});
</script></body></html>
